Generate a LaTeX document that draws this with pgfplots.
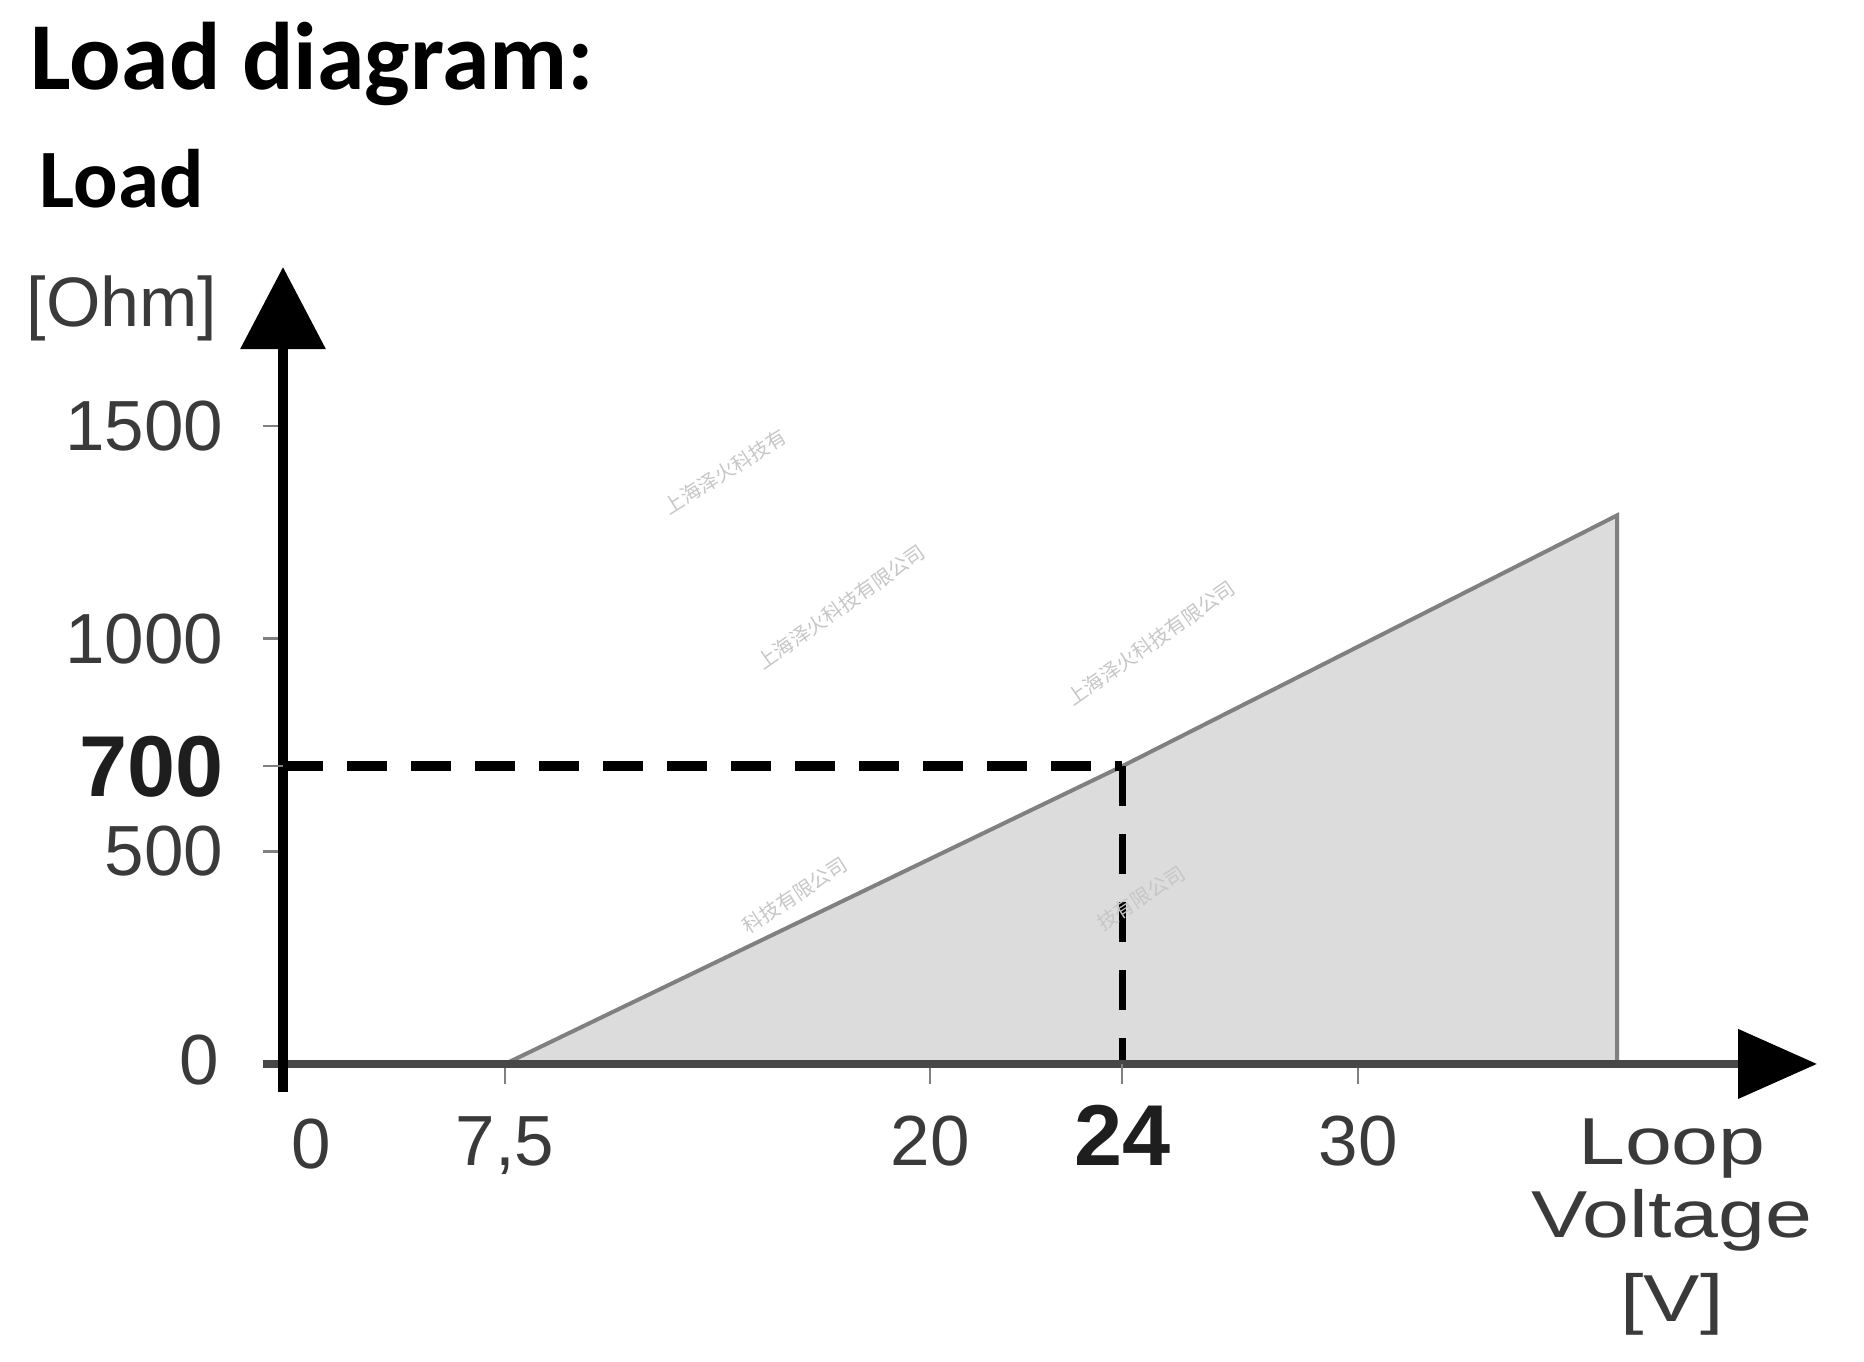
\documentclass[border=0pt]{standalone}
\usepackage{fontspec}
\setmainfont{Liberation Sans}
\newfontfamily\titlefont{Carlito}
\newfontfamily\stretchfont[FakeStretch=1.27]{Liberation Sans}
\newfontfamily\cjk{Noto Sans CJK SC}
\usepackage{pgfplots}
\pgfplotsset{compat=1.18}
\usetikzlibrary{arrows.meta}
\definecolor{fillgray}{HTML}{DCDCDC}
\definecolor{outlinegray}{HTML}{808080}
\definecolor{labelgray}{HTML}{3A3A3A}
\definecolor{boldgray}{HTML}{1E1E1E}
\definecolor{xaxisgray}{HTML}{474747}
\definecolor{wm}{HTML}{C6C6C6}
\newcommand\ticklabelfont{\fontsize{17.75bp}{20bp}\selectfont}
\newcommand\bigbold{\fontsize{21.6bp}{24bp}\selectfont\bfseries}
\begin{document}
\begin{tikzpicture}
\useasboundingbox (0,0) rectangle (466bp,-340.5bp);
\begin{axis}[
  at={(65.75bp,-273bp)}, anchor=south west,
  scale only axis, width=388.5bp, height=206.25bp,
  x coord trafo/.code={\pgfmathparse{29.6*(#1)+4.4*max((#1)-7.5,0)+14*max((#1)-20,0)-8.67*max((#1)-24,0)+3.84*max((#1)-30,0)}},
  xmin=-0.676, xmax=40.63, ymin=-66, ymax=1874,
  enlargelimits=false,
  axis lines=middle,
  axis on top,
  every inner x axis line/.append style={-{Triangle[length=19.75bp,width=17bp,color=black]}, line width=2bp, draw=xaxisgray},
  every inner y axis line/.append style={-{Triangle[length=20.5bp,width=20.75bp]}, line width=2.5bp, draw=black},
  tick align=outside,
  major tick length=5bp,
  tick style={draw=gray, line width=0.6bp},
  xtick={7.5,20,30}, xticklabels={{7,5},20,30},
  extra x ticks={24}, extra x tick labels={24},
  extra x tick style={xticklabel style={font=\bigbold, text=boldgray}},
  ytick={500,1000,1500}, yticklabels={500,1000,1500},
  extra y ticks={700}, extra y tick labels={700},
  extra y tick style={yticklabel style={font=\bigbold, text=boldgray}},
  xticklabel style={anchor=base, inner sep=0pt, yshift=-20.5bp, font=\ticklabelfont, text=labelgray},
  yticklabel style={anchor=east, inner sep=0pt, xshift=-9.75bp, font=\ticklabelfont, text=labelgray},
]
\addplot[fill=fillgray, draw=none] coordinates {(7.5,0) (24,700) (36,1290) (36,0)} -- cycle;
\addplot[draw=outlinegray, line width=1bp] coordinates {(7.5,0) (24,700) (36,1290) (36,0)};
\addplot[black, line width=2.5bp, dash pattern=on 10bp off 6bp] coordinates {(0,700) (24,700)};
\addplot[black, line width=1.75bp, dash pattern=on 10bp off 7bp] coordinates {(24,700) (24,0)};
\end{axis}
\begin{scope}[x=0.25bp,y=-0.25bp]
\node[anchor=base west,inner sep=0pt,font=\titlefont\bfseries\fontsize{24bp}{28bp}\selectfont] at (30,89) {Load diagram:};
\node[anchor=base west,inner sep=0pt,font=\titlefont\bfseries\fontsize{20.75bp}{24bp}\selectfont] at (39,208) {Load};
\node[anchor=base west,inner sep=0pt,text=labelgray,font=\fontsize{17.5bp}{20bp}\selectfont] at (26,327) {[Ohm]};
\node[anchor=east,inner sep=0pt,text=labelgray,font=\ticklabelfont] at (220,1060) {0};
\node[anchor=base,inner sep=0pt,text=labelgray,font=\ticklabelfont] at (311,1169) {0};
\node[anchor=base,inner sep=0pt,text=labelgray,font=\stretchfont\fontsize{16.6bp}{19bp}\selectfont] at (1672,1165) {Loop};
\node[anchor=base,inner sep=0pt,text=labelgray,font=\stretchfont\fontsize{16.6bp}{19bp}\selectfont] at (1672,1238) {Voltage};
\node[anchor=base,inner sep=0pt,text=labelgray,font=\stretchfont\fontsize{16.6bp}{19bp}\selectfont] at (1672,1322) {[V]};
\node[rotate=32,text=wm,inner sep=0pt,font=\cjk\fontsize{5bp}{6bp}\selectfont] at (725,472) {上海泽火科技有};
\node[rotate=35,text=wm,inner sep=0pt,font=\cjk\fontsize{5bp}{6bp}\selectfont] at (841,607) {上海泽火科技有限公司};
\node[rotate=35,text=wm,inner sep=0pt,font=\cjk\fontsize{5bp}{6bp}\selectfont] at (1151,643) {上海泽火科技有限公司};
\node[rotate=33,text=wm,inner sep=0pt,font=\cjk\fontsize{5bp}{6bp}\selectfont] at (795,895) {科技有限公司};
\node[rotate=33,text=wm,inner sep=0pt,font=\cjk\fontsize{5bp}{6bp}\selectfont] at (1141,898) {技有限公司};
\end{scope}
\end{tikzpicture}
\end{document}
